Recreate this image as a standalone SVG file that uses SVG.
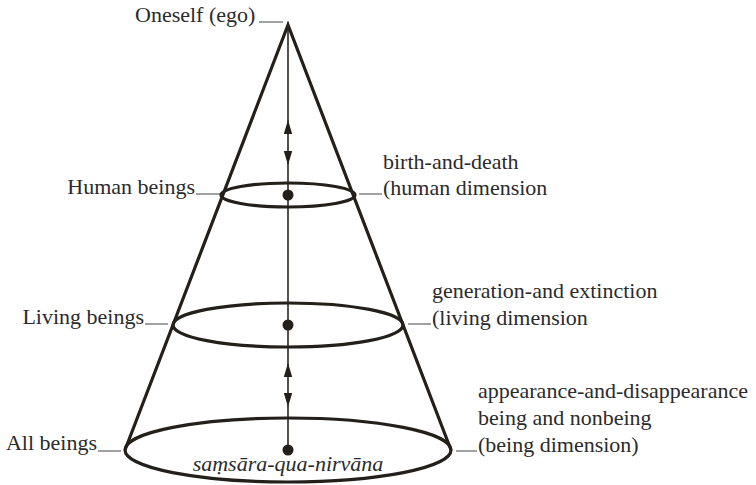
<svg xmlns="http://www.w3.org/2000/svg" width="756" height="485" viewBox="0 0 756 485">
<style>
.cone{fill:none;stroke:#231f1a;stroke-width:3.2;stroke-linejoin:miter}
.ring{fill:none;stroke:#231f1a;stroke-width:3.2}
.axis{fill:none;stroke:#2a2620;stroke-width:1.6}
.dot{fill:#231f1a}
.ah{fill:#231f1a}
.lead{fill:none;stroke:#555;stroke-width:1.1}
text{font-family:'Liberation Serif','DejaVu Serif','Times New Roman',serif;font-size:22px;fill:#2b2b2b}
.it{font-style:italic}
</style>
<defs>
<path id="ah" d="M0,0 L-4.2,14 L4.2,14 Z"/>
</defs>
<rect width="756" height="485" fill="#fff"/>
<g id="cone">
<path class="cone" d="M125,450 L288,25 L451,450"/>
</g>
<g id="connectors">
<line class="axis" x1="288" y1="22" x2="288" y2="450"/>
<use href="#ah" class="ah" transform="translate(288,120)"/>
<use href="#ah" class="ah" transform="translate(288,165) rotate(180)"/>
<use href="#ah" class="ah" transform="translate(288,363)"/>
<use href="#ah" class="ah" transform="translate(288,407) rotate(180)"/>
<line class="lead" x1="259" y1="22" x2="283" y2="22"/>
<line class="lead" x1="196" y1="194" x2="220" y2="194"/>
<line class="lead" x1="145" y1="324" x2="168" y2="324"/>
<line class="lead" x1="98" y1="451" x2="121" y2="451"/>
<line class="lead" x1="359" y1="194" x2="382" y2="194"/>
<line class="lead" x1="408" y1="324" x2="431" y2="324"/>
<line class="lead" x1="456" y1="451" x2="477" y2="451"/>
</g>
<g id="oneself">
<text x="135" y="22" font-family="Liberation Serif, DejaVu Serif, serif">Oneself (ego)</text>
</g>
<g id="human">
<ellipse class="ring" cx="288" cy="195" rx="67" ry="12"/>
<circle class="dot" cx="288" cy="195" r="5.5"/>
<text x="195" y="194" text-anchor="end" font-family="Liberation Serif, DejaVu Serif, serif">Human beings</text>
<text x="383" y="169" font-family="Liberation Serif, DejaVu Serif, serif">birth-and-death</text>
<text x="383" y="195" font-family="Liberation Serif, DejaVu Serif, serif">(human dimension</text>
</g>
<g id="living">
<ellipse class="ring" cx="288" cy="325" rx="115" ry="22"/>
<circle class="dot" cx="288" cy="325" r="5.5"/>
<text x="144" y="324" text-anchor="end" font-family="Liberation Serif, DejaVu Serif, serif">Living beings</text>
<text x="432" y="298" font-family="Liberation Serif, DejaVu Serif, serif">generation-and extinction</text>
<text x="432" y="325" font-family="Liberation Serif, DejaVu Serif, serif">(living dimension</text>
</g>
<g id="all">
<ellipse class="ring" cx="288" cy="450" rx="163" ry="32"/>
<circle class="dot" cx="288" cy="450" r="5.5"/>
<text class="it" x="288" y="471" text-anchor="middle" font-family="Liberation Serif, DejaVu Serif, serif">saṃsāra-qua-nirvāna</text>
<text x="97" y="450" text-anchor="end" font-family="Liberation Serif, DejaVu Serif, serif">All beings</text>
<text x="478" y="398" font-family="Liberation Serif, DejaVu Serif, serif">appearance-and-disappearance</text>
<text x="478" y="425" font-family="Liberation Serif, DejaVu Serif, serif">being and nonbeing</text>
<text x="478" y="452" font-family="Liberation Serif, DejaVu Serif, serif">(being dimension)</text>
</g>
</svg>
